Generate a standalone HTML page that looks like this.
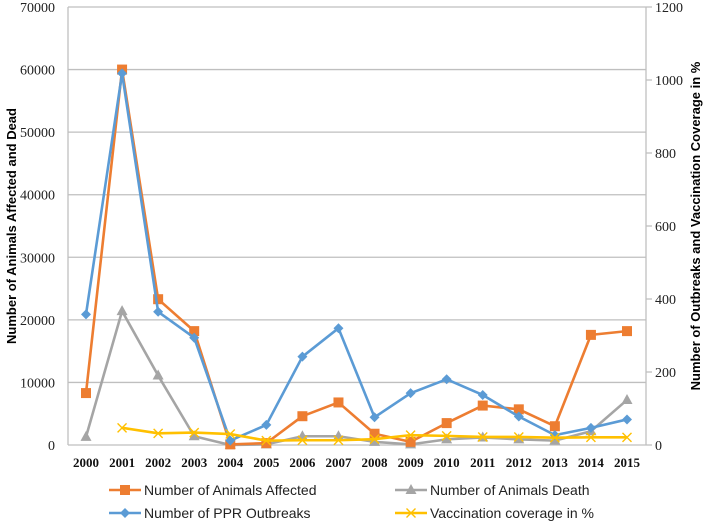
<!DOCTYPE html>
<html><head><meta charset="utf-8"><style>
body{margin:0;background:#fff;}
svg{display:block;font-family:"Liberation Serif",serif;}
</style></head><body>
<svg id="chart" width="709" height="521" viewBox="0 0 709 521">
<g id="grid"></g>
<g id="axes"></g>
<g id="series"></g>
<text transform="translate(16,226) rotate(-90)" text-anchor="middle" font-family="Liberation Sans, sans-serif" font-weight="bold" font-size="13">Number of Animals Affected and Dead</text>
<text transform="translate(700,226) rotate(-90)" text-anchor="middle" font-family="Liberation Sans, sans-serif" font-weight="bold" font-size="13">Number of Outbreaks and Vaccination Coverage in %</text>
<g id="legend" font-family="Liberation Sans, sans-serif" font-size="14" fill="#222"></g>
</svg>
<script>
const years=[2000,2001,2002,2003,2004,2005,2006,2007,2008,2009,2010,2011,2012,2013,2014,2015];
const leftTicks=[0,10000,20000,30000,40000,50000,60000,70000];
const rightTicks=[0,200,400,600,800,1000,1200];
const affected=[8300,60000,23300,18200,100,300,4600,6800,1800,500,3500,6300,5700,3000,17600,18200];
const deaths=[1300,21400,11100,1400,0,100,1400,1400,500,100,900,1200,900,700,2200,7200];
const outbreaks=[358,1018,365,294,12,55,242,320,76,142,180,137,78,27,47,70];
const vaccination=[null,47,32,34,30,12,13,13,16,27,25,22,22,20,21,21];

const NS="http://www.w3.org/2000/svg";
const L=68,R=646,T=7,B=445;
const x0=86,dx=(627-86)/15;
const xs=i=>x0+i*dx;
const yl=v=>B-(v/70000)*(B-T);
const yr=v=>B-(v/1200)*(B-T);
function mk(tag,attrs,parent){const e=document.createElementNS(NS,tag);for(const k in attrs)e.setAttribute(k,attrs[k]);parent.appendChild(e);return e;}
const grid=document.getElementById('grid'),axes=document.getElementById('axes'),ser=document.getElementById('series'),leg=document.getElementById('legend');
const SERIF='Liberation Serif, serif';

leftTicks.forEach(v=>{
  if(v>0){const g=mk('line',{x1:L,x2:R,y1:yl(v),y2:yl(v),stroke:'#bfbfbf','stroke-width':1.3},grid);
  
  }
  const t=mk('text',{x:55,y:yl(v)+5,'text-anchor':'end','font-size':14,'font-family':SERIF,fill:'#222'},axes);t.textContent=v;
  
  
});
rightTicks.forEach(v=>{
  const tk=mk('line',{x1:R,x2:R+6,y1:yr(v),y2:yr(v),stroke:'#bfbfbf','stroke-width':1.3},axes);
  
  
  const t=mk('text',{x:655,y:yr(v)+5,'font-size':14,'font-family':SERIF,fill:'#222'},axes);t.textContent=v;
  
  
});
const la=mk('line',{x1:L,x2:L,y1:T,y2:B,stroke:'#bfbfbf','stroke-width':1.3},axes);


const ra=mk('line',{x1:R,x2:R,y1:T,y2:B,stroke:'#bfbfbf','stroke-width':1.3},axes);


const xa=mk('line',{x1:L,x2:R,y1:B,y2:B,stroke:'#bfbfbf','stroke-width':1.3},axes);


years.forEach((y,i)=>{
  const t=mk('text',{x:xs(i),y:467,'text-anchor':'middle','font-size':13,'font-weight':'bold','font-family':SERIF,fill:'#111'},axes);t.textContent=y;
  
  
});

function marker(type,cx,cy,color,p){
  let e;
  if(type==='square')e=mk('rect',{x:cx-5,y:cy-5,width:10,height:10,fill:color},p);
  else if(type==='diamond')e=mk('path',{d:`M${cx} ${cy-5}L${cx+5} ${cy}L${cx} ${cy+5}L${cx-5} ${cy}Z`,fill:color},p);
  else if(type==='triangle')e=mk('path',{d:`M${cx} ${cy-6}L${cx+5.5} ${cy+4}L${cx-5.5} ${cy+4}Z`,fill:color},p);
  else e=mk('path',{d:`M${cx-4.5} ${cy-4.5}L${cx+4.5} ${cy+4.5}M${cx+4.5} ${cy-4.5}L${cx-4.5} ${cy+4.5}`,stroke:color,'stroke-width':1.4,fill:'none'},p);
  return e;
}
function series(name,data,ys,color,type){
  const g=mk('g',{},ser);
  
  
  const pts=[];data.forEach((v,i)=>{if(v!==null)pts.push([xs(i),ys(v)]);});
  const pl=mk('polyline',{points:pts.map(p=>p.join(',')).join(' '),fill:'none',stroke:color,'stroke-width':2.6,'stroke-linejoin':'round'},g);
  
  
  pts.forEach(p=>{const m=marker(type,p[0],p[1],color,g);
    
    });
}
series('deaths-series',deaths,yl,'#a5a5a5','triangle');
series('affected-series',affected,yl,'#ed7d31','square');
series('outbreaks-series',outbreaks,yr,'#5b9bd5','diamond');
series('vaccination-series',vaccination,yr,'#ffc000','x');

const legendItems=[
  ['legend-affected','Number  of Animals Affected','#ed7d31','square',109,490],
  ['legend-deaths','Number of Animals Death','#a5a5a5','triangle',395,490],
  ['legend-outbreaks','Number of PPR Outbreaks','#5b9bd5','diamond',109,513],
  ['legend-vaccination','Vaccination coverage in %','#ffc000','x',395,513]];
legendItems.forEach(it=>{
  const g=mk('g',{},leg);
  
  
  mk('line',{x1:it[4],x2:it[4]+32,y1:it[5],y2:it[5],stroke:it[2],'stroke-width':2.6},g);
  marker(it[3],it[4]+16,it[5],it[2],g);
  const t=mk('text',{x:it[4]+35,y:it[5]+5},g);t.textContent=it[1];
});
</script>
</body></html>
